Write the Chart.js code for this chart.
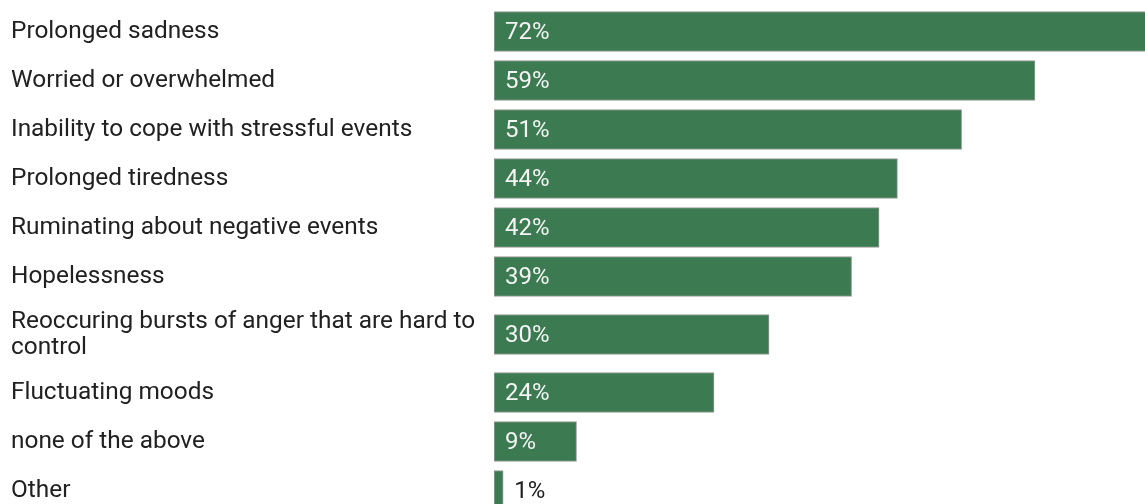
<!DOCTYPE html>
<html>
<head>
<meta charset="utf-8">
<script src="https://cdn.jsdelivr.net/npm/chart.js@4.4.1/dist/chart.umd.min.js"></script>
<style>
  html, body { margin: 0; padding: 0; background: #fff; overflow: hidden; }
  #wrap { position: relative; width: 1145px; height: 515px; }
</style>
</head>
<body>
<div id="wrap"><canvas id="bars"></canvas></div>
<script>
(function () {
  const categories = [
    "Prolonged sadness",
    "Worried or overwhelmed",
    "Inability to cope with stressful events",
    "Prolonged tiredness",
    "Ruminating about negative events",
    "Hopelessness",
    ["Reoccuring bursts of anger that are hard to", "control"],
    "Fluctuating moods",
    "none of the above",
    "Other"
  ];
  const percents = [72, 59, 51, 44, 42, 39, 30, 24, 9, 1];

  const barColor = "#3c7a51";
  const textColor = "#212121";
  const fontFamily = "Roboto, 'Noto Sans', sans-serif";

  // each row is one line tall, wrapped labels get extra room per line
  const rowH = 49;
  const extraLine = 18;
  const rowHeights = categories.map(c => rowH + (Array.isArray(c) ? c.length - 1 : 0) * extraLine);
  const rowCenters = [];
  let acc = 0;
  rowHeights.forEach(h => { rowCenters.push(acc + h / 2); acc += h; });
  const totalH = acc;

  // percentage text: inside the bar when it fits, just past the end otherwise
  const valueLabels = {
    id: "valueLabels",
    afterDatasetsDraw(chart) {
      const ctx = chart.ctx;
      const meta = chart.getDatasetMeta(0);
      ctx.save();
      ctx.font = "24px " + fontFamily;
      ctx.textBaseline = "middle";
      ctx.textAlign = "left";
      meta.data.forEach((bar, i) => {
        const txt = percents[i] + "%";
        const inside = (bar.x - bar.base) > 60;
        if (inside) {
          ctx.fillStyle = "#f4f4f4";
          ctx.fillText(txt, bar.base + 11, bar.y + 1);
        } else {
          ctx.fillStyle = textColor;
          ctx.fillText(txt, bar.x + 11, bar.y + 1);
        }
      });
      ctx.restore();
    }
  };

  new Chart(document.getElementById("bars"), {
    type: "bar",
    data: {
      datasets: [{
        data: percents.map((v, i) => ({ x: v, y: rowCenters[i] })),
        backgroundColor: barColor,
        borderColor: "#9b9b9b",
        borderWidth: 1,
        borderSkipped: false,
        barThickness: 40
      }]
    },
    options: {
      indexAxis: "y",
      responsive: true,
      maintainAspectRatio: false,
      animation: false,
      layout: { padding: { left: 11, top: 7, right: 0, bottom: 0 } },
      plugins: { legend: { display: false }, tooltip: { enabled: false } },
      scales: {
        x: { display: false, min: 0, max: 71 },
        y: {
          type: "linear",
          reverse: true,
          offset: false,
          min: 0,
          max: totalH,
          grid: { display: false },
          border: { display: false },
          afterBuildTicks: (scale) => {
            scale.ticks = rowCenters.map(v => ({ value: v }));
          },
          afterFit: (scale) => {
            scale.width = 483;
            scale.paddingTop = 0;
            scale.paddingBottom = 0;
          },
          ticks: {
            autoSkip: false,
            crossAlign: "far",
            padding: 0,
            color: textColor,
            font: { family: fontFamily, size: 24.4, lineHeight: 1.06 },
            callback: (value) => {
              const i = rowCenters.indexOf(value);
              return i >= 0 ? categories[i] : "";
            }
          }
        }
      }
    },
    plugins: [valueLabels]
  });
})();
</script>
</body>
</html>
